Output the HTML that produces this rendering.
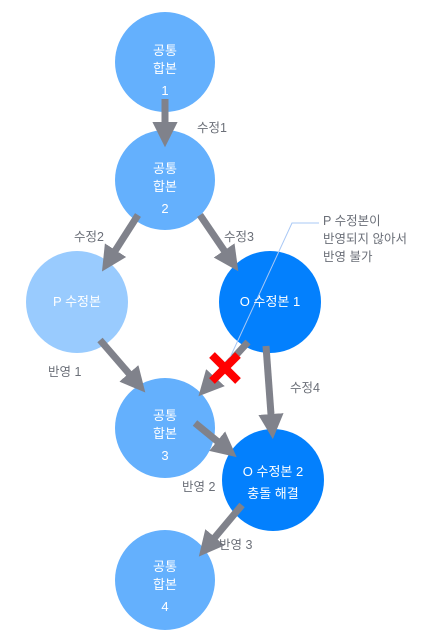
<!DOCTYPE html>
<html><head><meta charset="utf-8"><style>
body{margin:0;background:#fff;}
svg{display:block;font-family:"Liberation Sans","Noto Sans CJK KR",sans-serif;}
.w{fill:#fff;font-size:13px;text-anchor:middle;}
.g{fill:#6b6f78;font-size:12.5px;}
</style></head><body>
<svg width="439" height="637" viewBox="0 0 439 637">
<defs><marker id="a" markerWidth="4" markerHeight="4" refX="2" refY="2" orient="auto" markerUnits="strokeWidth"><path d="M0,0.2 L3.6,2 L0,3.8 Z" fill="#80828b"/></marker></defs>
<circle cx="165" cy="62" r="50" fill="#64b0fd"/>
<circle cx="165" cy="180" r="50" fill="#64b0fd"/>
<circle cx="77" cy="302" r="51" fill="#99cbfe"/>
<circle cx="270" cy="302" r="51" fill="#0380fd"/>
<circle cx="165" cy="428" r="50" fill="#64b0fd"/>
<circle cx="273" cy="480" r="51" fill="#0380fd"/>
<circle cx="165" cy="580" r="50" fill="#64b0fd"/>
<g stroke="#80828b" stroke-width="7" fill="none" marker-end="url(#a)">
<line x1="165" y1="99" x2="165" y2="136"/>
<line x1="138" y1="215" x2="108" y2="262"/>
<line x1="200" y1="215" x2="232" y2="262"/>
<line x1="100" y1="340" x2="138" y2="384"/>
<line x1="248" y1="342" x2="206" y2="388"/>
<line x1="266" y1="346" x2="272" y2="428"/>
<line x1="195" y1="423" x2="228" y2="450"/>
<line x1="242" y1="505" x2="206" y2="548"/>
</g>
<path d="M319,223 L292,223 L222,375" stroke="#a9c8f5" stroke-width="1" fill="none"/>
<g stroke="#f00" stroke-width="8"><line x1="212" y1="355" x2="238" y2="381"/><line x1="238" y1="355" x2="212" y2="381"/></g>
<text class="w" x="165" y="55">공통</text><text class="w" x="165" y="73">합본</text><text class="w" x="165" y="95">1</text>
<text class="w" x="165" y="173">공통</text><text class="w" x="165" y="191">합본</text><text class="w" x="165" y="213">2</text>
<text class="w" x="77" y="306">P 수정본</text>
<text class="w" x="270" y="306">O 수정본 1</text>
<text class="w" x="165" y="420">공통</text><text class="w" x="165" y="438">합본</text><text class="w" x="165" y="460">3</text>
<text class="w" x="273" y="476">O 수정본 2</text><text class="w" x="273" y="498">충돌 해결</text>
<text class="w" x="165" y="571">공통</text><text class="w" x="165" y="589">합본</text><text class="w" x="165" y="611">4</text>
<text class="g" x="197" y="132">수정1</text>
<text class="g" x="74" y="241">수정2</text>
<text class="g" x="224" y="241">수정3</text>
<text class="g" x="48" y="376">반영 1</text>
<text class="g" x="290" y="392">수정4</text>
<text class="g" x="182" y="491">반영 2</text>
<text class="g" x="219" y="549">반영 3</text>
<text class="g" x="323" y="225">P 수정본이</text>
<text class="g" x="323" y="243">반영되지 않아서</text>
<text class="g" x="323" y="261">반영 불가</text>
</svg>
</body></html>
